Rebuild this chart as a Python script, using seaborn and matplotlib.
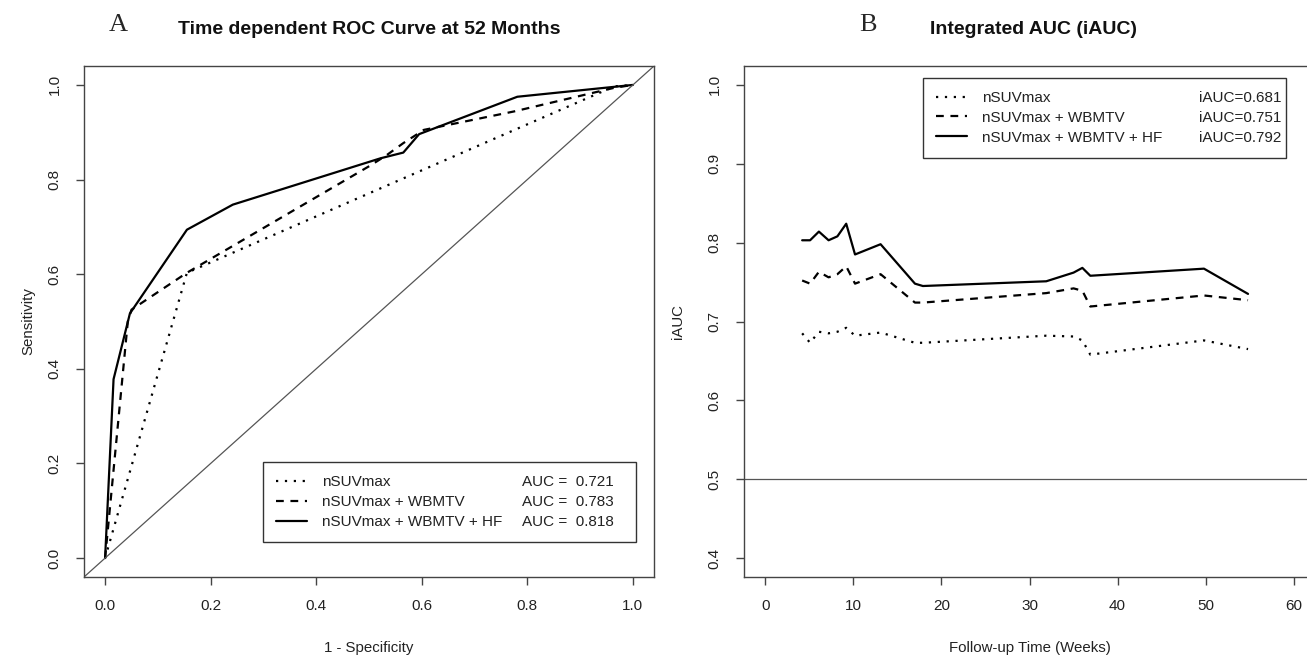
import numpy as np
import pandas as pd
import matplotlib
matplotlib.use("Agg")
import matplotlib.pyplot as plt
import seaborn as sns
from matplotlib.lines import Line2D

# ---------------- data ----------------
model_names = ["nSUVmax", "nSUVmax + WBMTV", "nSUVmax + WBMTV + HF"]
auc_labels = ["AUC =  0.721", "AUC =  0.783", "AUC =  0.818"]
iauc_labels = ["iAUC=0.681", "iAUC=0.751", "iAUC=0.792"]

# ROC curves at 52 months (1 - specificity, sensitivity)
fpr_m1 = [0.0, 0.155, 0.965, 1.0]
tpr_m1 = [0.0, 0.603, 0.997, 1.0]
fpr_m2 = [0.0, 0.043, 0.050, 0.155, 0.503, 0.534, 0.565, 0.604, 0.775, 0.965, 1.0]
tpr_m2 = [0.0, 0.500, 0.525, 0.603, 0.830, 0.852, 0.877, 0.905, 0.944, 0.994, 1.0]
fpr_m3 = [0.0, 0.016, 0.047, 0.155, 0.242, 0.522, 0.565, 0.595, 0.781, 1.0]
tpr_m3 = [0.0, 0.378, 0.517, 0.694, 0.747, 0.845, 0.857, 0.896, 0.975, 1.0]

# Time-varying AUC
weeks = [4.2, 5.1, 6.1, 7.2, 8.2, 9.2, 10.2, 13.1, 17.0, 17.9, 31.9, 35.0, 36.0, 36.9, 49.8, 54.8]
iauc_m1 = [0.685, 0.673, 0.687, 0.685, 0.687, 0.692, 0.682, 0.686, 0.673, 0.673, 0.682, 0.681, 0.676, 0.658, 0.676, 0.665]
iauc_m2 = [0.752, 0.748, 0.763, 0.756, 0.760, 0.770, 0.748, 0.760, 0.724, 0.724, 0.736, 0.742, 0.739, 0.719, 0.733, 0.727]
iauc_m3 = [0.803, 0.803, 0.814, 0.803, 0.808, 0.824, 0.785, 0.798, 0.748, 0.745, 0.751, 0.762, 0.768, 0.758, 0.767, 0.735]

roc_x_ticks = [0.0, 0.2, 0.4, 0.6, 0.8, 1.0]
roc_y_ticks = [0.0, 0.2, 0.4, 0.6, 0.8, 1.0]
time_x_ticks = [0, 10, 20, 30, 40, 50, 60]
time_y_ticks = [0.4, 0.5, 0.6, 0.7, 0.8, 0.9, 1.0]

# ---------------- style ----------------
sns.set_theme(style="white")
plt.rcParams["font.family"] = ["Liberation Sans", "DejaVu Sans"]
plt.rcParams["axes.edgecolor"] = "#444444"
plt.rcParams["axes.linewidth"] = 1.0

W, H = 1307, 656
fig = plt.figure(figsize=(W / 100, H / 100), dpi=100)

def px_axes(l, t, r, b):
    return fig.add_axes([l / W, 1 - b / H, (r - l) / W, (b - t) / H])

axA = px_axes(84, 66, 654, 577)
axB = px_axes(744, 66, 1315, 577)

styles = [(0, (1, 3)), (0, (3.5, 3)), "solid"]
LW = 1.6
ink = "black"

# ---- panel A ----
roc_sets = [(fpr_m1, tpr_m1), (fpr_m2, tpr_m2), (fpr_m3, tpr_m3)]
for (fx, ty), ls in zip(roc_sets, styles):
    sns.lineplot(x=fx, y=ty, ax=axA, color=ink, linewidth=LW, linestyle=ls,
                 sort=False, estimator=None)
axA.axline((0, 0), slope=1, color="#555555", linewidth=0.9)
axA.set_xlim(-0.04, 1.04)
axA.set_ylim(-0.04, 1.04)
axA.set_xticks(roc_x_ticks)
axA.set_yticks(roc_y_ticks)
axA.set_xticklabels([f"{v:.1f}" for v in roc_x_ticks])
axA.set_yticklabels([f"{v:.1f}" for v in roc_y_ticks])

# ---- panel B ----
time_sets = [iauc_m1, iauc_m2, iauc_m3]
for vals, ls in zip(time_sets, styles):
    sns.lineplot(x=weeks, y=vals, ax=axB, color=ink, linewidth=LW, linestyle=ls,
                 sort=False, estimator=None)
axB.axhline(0.5, color="#555555", linewidth=0.9)
axB.set_xlim(-2.4, 62.4)
axB.set_ylim(0.376, 1.024)
axB.set_xticks(time_x_ticks)
axB.set_yticks(time_y_ticks)
axB.set_xticklabels([str(v) for v in time_x_ticks])
axB.set_yticklabels([f"{v:.1f}" for v in time_y_ticks])

for ax in (axA, axB):
    ax.tick_params(axis="both", which="major", direction="out", length=6, width=1,
                   color="#444444", labelsize=11, labelcolor="#222222", pad=10,
                   bottom=True, left=True)
    for lab in ax.get_yticklabels():
        lab.set_rotation(90)
        lab.set_va("center")
    for s in ax.spines.values():
        s.set_visible(True)
        s.set_color("#444444")
    ax.set_facecolor("white")

axA.set_xlabel("1 - Specificity", fontsize=10.8, color="#222222")
axA.set_ylabel("Sensitivity", fontsize=10.8, color="#222222")
axB.set_xlabel("Follow-up Time (Weeks)", fontsize=10.8, color="#222222")
axB.set_ylabel("iAUC", fontsize=10.8, color="#222222")
axA.xaxis.set_label_coords(0.5, (577 - 648) / 511)
axB.xaxis.set_label_coords((1030 - 744) / 571, (577 - 648) / 511)
axA.xaxis.label.set_va("center")
axB.xaxis.label.set_va("center")
axA.yaxis.set_label_coords((28 - 84) / 570, 0.5)
axB.yaxis.set_label_coords((678 - 744) / 571, 0.5)
axA.yaxis.label.set_va("center")
axB.yaxis.label.set_va("center")

# ---- legends ----
def make_legend(ax, loc, bbox):
    handles = [Line2D([], [], color=ink, linewidth=LW, linestyle=ls) for ls in styles]
    leg = ax.legend(handles, model_names, loc=loc, bbox_to_anchor=bbox, mode="expand",
                    fontsize=11, frameon=True, fancybox=False, framealpha=1,
                    edgecolor="#333333", borderpad=0.85, labelspacing=0.38,
                    handlelength=2.0, handletextpad=1.0, borderaxespad=0)
    leg.get_frame().set_linewidth(1.0)
    for t in leg.get_texts():
        t.set_color("#222222")
    return leg

legA = make_legend(axA, "lower left",
                   ((263 - 84) / 570, (577 - 542) / 511, (636 - 263) / 570, 0.2))
legB = make_legend(axB, "upper left",
                   ((923 - 744) / 571, (577 - 157) / 511, (1286 - 923) / 571, (157 - 78) / 511))

fig.canvas.draw()
inv = fig.transFigure.inverted()
for leg, labels, xpix, ha in ((legA, auc_labels, 522, "left"), (legB, iauc_labels, 1281, "right")):
    for t, lab in zip(leg.get_texts(), labels):
        bb = t.get_window_extent()
        yc = inv.transform((0, (bb.y0 + bb.y1) / 2))[1]
        fig.text(xpix / W, yc, lab, ha=ha, va="center", fontsize=11, color="#222222")

# ---- titles ----
serif = ["Liberation Serif", "DejaVu Serif"]
fig.text(118 / W, 1 - 25 / H, "A", family=serif, fontsize=19, ha="center", va="center")
fig.text(868 / W, 1 - 25 / H, "B", family=serif, fontsize=19, ha="center", va="center")
fig.text(178 / W, 1 - 30 / H, "Time dependent ROC Curve at 52 Months", fontsize=14,
         fontweight="bold", ha="left", va="center", color="#111111")
fig.text(930 / W, 1 - 30 / H, "Integrated AUC (iAUC)", fontsize=14,
         fontweight="bold", ha="left", va="center", color="#111111")

fig.savefig("out.png", dpi=100, facecolor="white")
